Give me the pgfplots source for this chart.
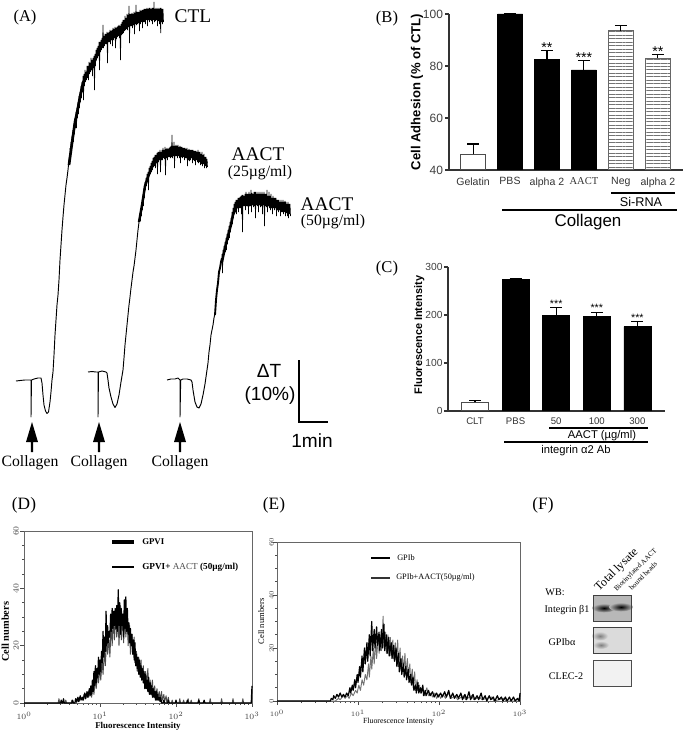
\documentclass[border=0pt]{standalone}
\usepackage{fontspec}
\setmainfont{Liberation Serif}
\setsansfont{Liberation Sans}
\usepackage{pgfplots}
\usepackage{pgfplotstable}
\pgfplotsset{compat=1.18}
\usetikzlibrary{patterns.meta}
% 1 px of the reference = 0.75pt

\pgfplotstableread{
lx n
0.00 0
0.48 0
0.49 1
0.50 0
0.51 0
0.52 1.5
0.53 0
0.63 0
0.64 1
0.65 0
0.67 0
0.68 1.5
0.69 0.5
0.71 2
0.72 0.5
0.74 2.5
0.75 1
0.77 2
0.78 1
0.80 3.5
0.81 1.5
0.83 4
0.84 2
0.86 5
0.87 2.5
0.88 6
0.89 3
0.90 8
0.91 4
0.92 11
0.93 6
0.94 13
0.95 7
0.96 12
0.97 9
0.98 16
0.99 10
1.00 15
1.01 11
1.02 18
1.03 14
1.04 25
1.05 16
1.06 23
1.07 18
1.08 32
1.09 20
1.10 27
1.11 21
1.12 25
1.13 23
1.14 31
1.15 25
1.16 33
1.17 26
1.18 32
1.19 27
1.20 33
1.21 26
1.22 34
1.23 25
1.24 39.5
1.25 27
1.26 35
1.27 24
1.28 33
1.29 27
1.30 31
1.31 23
1.32 36
1.33 26
1.34 37
1.35 25
1.36 33
1.37 24
1.38 28
1.39 21
1.40 26
1.41 20
1.42 24
1.43 17
1.44 22
1.45 15
1.46 21
1.47 13
1.48 17
1.49 12
1.50 16
1.51 10
1.52 15
1.53 9
1.54 13
1.55 8
1.56 12
1.57 7
1.58 11
1.59 5
1.60 10
1.61 5
1.62 8
1.63 4
1.64 9
1.65 3
1.66 7
1.67 3
1.68 6
1.69 2
1.70 5
1.71 2
1.72 4
1.73 1
1.74 4
1.75 1
1.76 3
1.77 1
1.78 2
1.79 0.5
1.80 2
1.81 0
1.83 0
1.84 1
1.85 0
1.89 0
1.90 1
1.91 0
1.99 0
2.00 1
2.01 0
2.14 0
2.15 1
2.16 0
2.29 0
2.30 1
2.31 0
2.36 0
2.37 1
2.38 0
2.99 0
3.00 6
}\histDa

\pgfplotstableread{
lx n
0.00 0
0.45 0
0.46 1.5
0.47 0
0.54 0
0.55 1
0.56 0
0.62 0
0.63 1
0.64 0
0.69 0
0.70 1
0.72 0.5
0.75 2
0.77 1
0.79 3
0.81 1.5
0.84 3.5
0.85 2
0.88 5
0.89 2
0.91 7
0.92 3
0.94 9
0.95 5
0.97 11
0.98 7
1.00 12
1.01 8
1.03 15
1.04 10
1.06 19
1.07 13
1.09 23
1.10 17
1.12 22
1.13 16
1.15 29
1.16 20
1.18 30
1.19 22
1.21 31
1.22 23
1.24 28
1.25 20
1.27 34
1.28 22
1.30 31
1.31 21
1.33 30
1.34 23
1.36 30
1.37 20
1.39 27
1.40 17
1.42 24
1.43 18
1.45 23
1.46 14
1.48 18
1.49 11
1.51 16
1.52 10
1.54 15
1.55 8
1.57 13
1.58 7
1.60 11
1.61 6
1.63 12
1.64 5
1.66 8
1.67 4
1.69 8
1.70 3
1.72 6
1.73 2
1.75 5
1.76 2
1.78 4
1.79 1
1.81 4
1.82 1
1.84 3
1.85 0.5
1.87 2.5
1.88 0
1.90 2
1.91 0
1.94 0
1.95 1
1.96 0
2.04 0
2.05 1.5
2.06 0
2.09 0
2.10 1
2.11 0
2.15 0
2.16 1.5
2.17 0
2.19 0
2.20 1
2.21 0
2.29 0
2.30 1.5
2.31 0
2.44 0
2.45 1.5
2.46 0
2.59 0
2.60 1.5
2.61 0
2.74 0
2.75 1.5
2.76 0
2.87 0
2.88 1.5
2.89 0
3.00 0
}\histDb

\pgfplotstableread{
lx n
0.00 0
0.66 0
0.67 1
0.69 0.5
0.70 2
0.72 1
0.74 2.5
0.76 1.5
0.78 3
0.80 1.5
0.82 2.5
0.84 1.5
0.86 3
0.88 2
0.90 5
0.91 3
0.93 6
0.94 4
0.96 8
0.97 5
0.99 10
1.00 7
1.02 13
1.03 9
1.05 17
1.06 11
1.08 20
1.09 14
1.11 22
1.12 15
1.14 25
1.15 17
1.17 30
1.18 19
1.20 27
1.21 20
1.23 28
1.24 21
1.26 26
1.27 19
1.29 27
1.30 20
1.32 29
1.33 19
1.35 25
1.36 18
1.38 24
1.39 17
1.41 22
1.42 16
1.44 21
1.45 15
1.47 20
1.48 13
1.50 18
1.51 11
1.53 16
1.54 10
1.56 14
1.57 9
1.59 13
1.60 8
1.62 12
1.63 7
1.65 10
1.66 6
1.68 9
1.69 4
1.71 6
1.72 3
1.74 7
1.75 3
1.77 5
1.78 3
1.80 6
1.81 2
1.83 4
1.84 2
1.87 4
1.89 2
1.92 3.5
1.94 1.5
1.97 3
1.99 1.5
2.02 3
2.04 1.5
2.07 3.5
2.09 1.5
2.12 4
2.14 1
2.17 3
2.19 1
2.22 2.5
2.24 1
2.27 3
2.29 0.5
2.32 2.5
2.34 0.5
2.37 3.5
2.39 0.5
2.42 2.5
2.44 0.5
2.47 2
2.49 0.5
2.52 3
2.54 0.5
2.57 2
2.59 0
2.62 2
2.64 0.5
2.67 1.5
2.69 0
2.72 2
2.74 0.5
2.77 1.5
2.79 0
2.82 1.5
2.84 0
2.87 1.5
2.89 0
2.92 1.5
2.94 0
2.97 1
2.99 0
3.00 3
}\histEa

\pgfplotstableread{
lx n
0.00 0
0.72 0
0.76 1
0.78 0.5
0.82 2
0.84 1
0.87 2
0.89 1
0.92 3
0.94 2
0.97 4
0.99 3
1.01 6
1.03 4
1.05 8
1.07 6
1.09 10
1.11 8
1.13 14
1.14 9
1.16 17
1.17 12
1.19 20
1.20 14
1.22 23
1.23 16
1.25 25
1.26 18
1.28 24
1.29 19
1.31 32
1.32 20
1.34 26
1.35 18
1.37 25
1.38 17
1.40 24
1.41 17
1.43 23
1.44 16
1.46 22
1.47 15
1.49 23
1.50 13
1.52 20
1.53 12
1.55 17
1.56 11
1.58 18
1.59 10
1.61 16
1.62 9
1.64 14
1.65 7
1.67 12
1.68 5
1.70 11
1.71 4
1.73 8
1.74 4
1.76 6
1.77 3
1.80 5
1.82 2
1.85 5
1.87 2
1.90 3
1.92 1.5
1.95 3
1.97 1
2.00 2.5
2.02 1
2.05 2.5
2.08 1
2.12 3
2.15 1
2.20 2
2.23 0.5
2.30 2
2.33 0.5
2.40 2
2.43 0.5
2.50 1.5
2.53 0.5
2.65 1.5
2.68 0
2.80 1
2.83 0
3.00 0
}\histEb

\pgfplotsset{
  barax/.style={
    scale only axis,
    axis x line*=bottom, axis y line*=left,
    axis line style={gray!40!black, line width=0.8pt, -},
    ybar, bar shift=0pt,
    major x tick style={draw=none},
    ytick style={gray!40!black, line width=0.8pt},
    tick align=outside,
    major tick length=3pt,
    ticklabel style={font=\sffamily, text=black!75},
    /pgf/number format/assume math mode=true,
    error bars/error bar style={line width=0.8pt, black},
    error bars/error mark options={rotate=90, mark size=4.5pt, line width=0.8pt, black},
  },
  histax/.style={
    scale only axis,
    xmin=1, xmax=1000, ymin=0, ymax=60,
    clip=false,
    ytick={0,20,40,60},
    minor y tick num=3,
    xtick pos=bottom, ytick pos=left,
    tick align=outside,
    axis line style={black!60, line width=0.5pt},
    tick style={black!70, line width=0.4pt},
    major tick length=3pt, minor tick length=1.5pt,
    y tick label style={rotate=90, anchor=south},
    tick label style={text=black!75},
  },
}

\begin{document}
\begin{tikzpicture}
\path[use as bounding box] (0,0) rectangle (513.75pt,549pt);

% panel A and all the loose labels, in the reference's pixels
\begin{axis}[
  at={(0,0)}, anchor=south west,
  scale only axis, width=513.75pt, height=549pt,
  xmin=0, xmax=685, ymin=0, ymax=732, y dir=reverse,
  hide axis, clip=false,
]
% CTL
\addplot[black, line width=0.7pt, line join=round] coordinates {
 (16,381)(20,380.5)(25,380)(30,380)(31,380)(31,417)(31.5,380)(34,379)(38,378)(41,378)(42,383)(43,395)(44,405)(45.5,411)(47,413.5)(48.5,412)(50,402)(51,392)(52,380)(53,372)(54,355)(55,335)(56,320)(57,305)(58,295)(59,280)(60,260)(61,245)(62,230)(63,217)(64,205)(65,195)(66,185)(67,178)(68,170)(69,160)(70,153)
};
\addplot[black, line width=2pt, line join=round] coordinates {
 (69,165)(72,143)(75,122)(77,113)(80,97)(83,83)(88,72)(93,66)(97,55)(100,48)(105,41)(110,37)(115,34)(120,30)(124,26)(127,22)(132,20)(137,18)(142,17)(147,15)(155,15)(163,15)
};
\addplot[black, line width=0.5pt] coordinates {
 (70,148)(70.5,158)(71,142)(71.5,150)(72,136)(72.5,146)(73,130)(73.5,142)(74,124)(74.5,134)(75,118)(75.5,128)(76,112)(76.5,128)(77,108)(77.5,118)(78,102)(78.5,114)(79,96)(79.5,108)(80,92)(80.5,102)(81,86)(81.5,98)(82,82)(82.5,92)(83,76)(83.5,100)(84,74)(84.5,86)(85,70)(85.5,82)(86,72)(86.5,80)(87,66)(87.5,78)(88,66)(88.5,80)(89,62)(89.5,74)(90,63)(90.5,72)(91,58)(91.5,70)(92,60)(92.5,76)(93,58)(93.5,68)(94,56)(94.5,90)(95,54)(95.5,66)(96,50)(96.5,60)(97,48)(97.5,58)(98,46)(98.5,56)(99,42)(99.5,70)(100,42)(100.5,52)(101,40)(101.5,50)(102,38)(102.5,48)(103,25)(103.5,48)(104,36)(104.5,46)(105,34)(105.5,44)(106,34)(106.5,44)(107,32)(107.5,63)(108,33)(108.5,42)(109,32)(109.5,42)(110,30)(110.5,44)(111,31)(111.5,40)(112,30)(112.5,46)(113,28)(113.5,40)(114,29)(114.5,38)(115,27)(115.5,48)(116,28)(116.5,39)(117,27)(117.5,37)(118,26)(118.5,36)(119,25)(119.5,38)(120,26)(120.5,60)(121,24)(121.5,35)(122,22)(122.5,34)(123,20)(123.5,33)(124,20)(124.5,31)(125,16)(125.5,30)(126,18)(126.5,29)(127,14)(127.5,30)(128,15)(128.5,27)(129,6)(129.5,43)(130,14)(130.5,26)(131,14)(131.5,26)(132,13)(132.5,28)(133,14)(133.5,25)(134,12)(134.5,34)(135,13)(135.5,24)(136,5)(136.5,25)(137,12)(137.5,24)(138,12)(138.5,23)(139,12)(139.5,31)(140,10)(140.5,24)(141,11)(141.5,22)(142,10)(142.5,28)(143,10)(143.5,22)(144,9)(144.5,22)(145,9)(145.5,24)(146,9)(146.5,20)(147,8)(147.5,26)(148,9)(148.5,20)(149,8)(149.5,22)(150,8)(150.5,20)(151,9)(151.5,21)(152,8)(152.5,24)(153,8)(153.5,20)(154,2)(154.5,22)(155,9)(155.5,21)(156,8)(156.5,20)(157,9)(157.5,26)(158,8)(158.5,21)(159,9)(159.5,24)(160,8)(160.7,33)(161,8)(161.5,22)(162,9)(162.5,24)(163,9)(163.5,22)
};
% AACT 25
\addplot[black, line width=0.7pt, line join=round] coordinates {
 (88,372)(92,371.5)(96,372)(98,372)(98,417)(98.5,372)(102,371)(106,372)(107,373)(108,380)(109,388)(111,397)(113,404)(115,407.5)(117,404)(119,395)(121,382)(123,370)(124,358)(125,345)(126,335)(127,325)(128,315)(129,305)(130,297)(131,288)(132,280)(133,272)(134,266)(135,258)(136,250)(137,240)(138,230)(139,222)(140,216)
};
\addplot[black, line width=1.8pt, line join=round] coordinates {
 (139,222)(142,205)(145,186)(148,177)(152,167)(155,162)(160,157)(168,154)(176,152)(186,154)(196,156)(202,159)(207,163)
};
\addplot[black, line width=0.5pt] coordinates {
 (140,213)(140.5,221)(141,208)(141.5,216)(142,202)(142.5,210)(143,196)(143.5,206)(144,188)(144.5,198)(145,182)(145.5,190)(146,178)(146.5,186)(147,174)(147.5,182)(148,172)(148.5,190)(149,168)(149.5,176)(150,166)(150.5,174)(151,163)(151.5,172)(152,161)(152.5,170)(153,158)(153.5,167)(154,157)(154.5,166)(155,155)(155.5,168)(156,155)(156.5,163)(157,153)(157.5,174)(158,152)(158.5,162)(159,152)(159.5,160)(160,150)(160.5,172)(161,152)(161.5,160)(162,150)(162.5,160)(163,148)(163.5,158)(164,150)(164.5,159)(165,147)(165.5,175)(166,149)(166.5,158)(167,148)(167.5,160)(168,149)(168.5,157)(169,148)(169.5,157)(170,147)(170.5,158)(171,146)(171.5,157)(172,135)(172.5,158)(173,146)(173.5,156)(174,142)(174.5,168)(175,146)(175.5,156)(176,145)(176.5,156)(177,146)(177.5,158)(178,145)(178.5,156)(179,147)(179.5,158)(180,146)(180.5,163)(181,147)(181.5,157)(182,147)(182.5,158)(183,148)(183.5,157)(184,148)(184.5,160)(185,148)(185.5,158)(186,149)(186.5,158)(187,148)(187.5,166)(188,150)(188.5,160)(189,149)(189.5,161)(190,150)(190.5,160)(191,150)(191.5,158)(192,150)(192.5,163)(193,150)(193.5,160)(194,151)(194.5,161)(195,151)(195.5,165)(196,151)(196.5,160)(197,152)(197.5,162)(198,150)(198.5,163)(199,152)(199.5,162)(200,152)(200.5,165)(201,154)(201.5,164)(202,152)(202.5,166)(203,155)(203.5,164)(204,154)(204.5,168)(205,157)(205.5,166)(206,157)(206.5,168)(207,159)(207.5,167)
};
% AACT 50
\addplot[black, line width=0.7pt, line join=round] coordinates {
 (167,380)(171,379)(175,379)(178,378)(180,380)(180,417)(180.7,380)(183,379)(187,379)(191,380)(192,382)(193,390)(195,402)(197,407)(199,408)(201,404)(203,395)(205,384)(207,370)(208,363)(209,352)(210,345)(211,335)(212,330)(213,325)(214,318)(215,313)
};
\addplot[black, line width=1.4pt] coordinates {
 (215,315)(216,300)(217,290)(218,283)(219,272)(220,268)(221,262)(222,258)
};
\addplot[black, line width=1.8pt, line join=round] coordinates {
 (222,262)(225,248)(228,236)(231,225)(233,215)(236,208)(240,203)(246,200)(254,199)(262,200)(270,202)(278,206)(284,208)(290,210)
};
\addplot[black, line width=0.5pt] coordinates {
 (222,254)(222.5,273)(223,250)(223.5,258)(224,246)(224.5,254)(225,242)(225.5,252)(226,238)(226.5,250)(227,234)(227.5,244)(228,230)(228.5,240)(229,226)(229.5,238)(230,222)(230.5,232)(231,218)(231.5,226)(232,212)(232.5,224)(233,208)(233.5,218)(234,204)(234.5,214)(235,202)(235.5,212)(236,200)(236.5,214)(237,200)(237.5,208)(238,198)(238.5,212)(239,198)(239.5,208)(240,197)(240.5,208)(241,196)(241.5,214)(242,195)(242.5,232)(243,195)(243.5,206)(244,196)(244.5,206)(245,194)(245.5,210)(246,192)(246.5,206)(247,194)(247.5,206)(248,194)(248.5,214)(249,192)(249.5,206)(250,194)(250.5,206)(251,190)(251.5,212)(252,193)(252.5,205)(253,194)(253.5,207)(254,192)(254.5,206)(255,192)(255.5,218)(256,192)(256.5,205)(257,194)(257.5,206)(258,192)(258.5,212)(259,194)(259.5,205)(260,192)(260.5,207)(261,194)(261.5,206)(262,192)(262.5,214)(263,194)(263.5,205)(264,192)(264.5,226)(265,194)(265.5,206)(266,194)(266.5,207)(267,190)(267.5,212)(268,196)(268.5,206)(269,192)(269.5,208)(270,196)(270.5,210)(271,194)(271.5,208)(272,198)(272.5,214)(273,196)(273.5,208)(274,198)(274.5,210)(275,198)(275.5,208)(276,198)(276.5,216)(277,200)(277.5,210)(278,200)(278.5,212)(279,200)(279.5,210)(280,202)(280.5,216)(281,200)(281.5,212)(282,202)(282.5,212)(283,200)(283.5,214)(284,202)(284.5,212)(285,201)(285.5,216)(286,202)(286.5,213)(287,204)(287.5,216)(288,202)(288.5,218)(289,204)(289.5,214)(290,204)(290.5,216)
};
% arrows under the traces
\foreach \ax in {32,99,180}{
  \edef\temp{\noexpand\fill[black] (axis cs:\ax,422) -- (axis cs:\ax+6,442) -- (axis cs:\ax+1.2,442) -- (axis cs:\ax+1.2,452) -- (axis cs:\ax-1.2,452) -- (axis cs:\ax-1.2,442) -- (axis cs:\ax-6,442) -- cycle;}
  \temp
  \edef\temp{\noexpand\node[font=\noexpand\fontsize{11.8pt}{13pt}\noexpand\selectfont] at (axis cs:\ifnum\ax=32 30\else\ax\fi,463) {Collagen};}
  \temp
}
% scale bar
\draw[black, line width=1.1pt] (axis cs:299,360) -- (axis cs:299,422) -- (axis cs:328,422);
\node[font=\sffamily\fontsize{14.3pt}{16pt}\selectfont] at (axis cs:269,371) {ΔT};
\node[font=\sffamily\fontsize{14.3pt}{16pt}\selectfont] at (axis cs:270,396) {(10\%)};
\node[font=\sffamily\fontsize{14.3pt}{16pt}\selectfont] at (axis cs:312,441) {1min};
\node[font=\fontsize{14.5pt}{16pt}\selectfont] at (axis cs:193,16) {CTL};
\node[font=\fontsize{14.5pt}{16pt}\selectfont] at (axis cs:258,154) {AACT};
\node[font=\fontsize{11.8pt}{13pt}\selectfont] at (axis cs:260,173) {(25µg/ml)};
\node[font=\fontsize{14.5pt}{16pt}\selectfont] at (axis cs:327,204) {AACT};
\node[font=\fontsize{11.8pt}{13pt}\selectfont] at (axis cs:333,222) {(50µg/ml)};
% panel letters
\node[font=\fontsize{12.4pt}{14pt}\selectfont] at (axis cs:25,18) {(A)};
\node[font=\fontsize{12.4pt}{14pt}\selectfont] at (axis cs:387,19) {(B)};
\node[font=\fontsize{12.4pt}{14pt}\selectfont] at (axis cs:387,269) {(C)};
\node[font=\fontsize{13pt}{15pt}\selectfont] at (axis cs:24,505) {(D)};
\node[font=\fontsize{13pt}{15pt}\selectfont] at (axis cs:274,505) {(E)};
\node[font=\fontsize{13pt}{15pt}\selectfont] at (axis cs:543,505) {(F)};
% brackets under B
\draw[black, line width=0.8pt] (axis cs:611,193) -- (axis cs:675,193);
\node[font=\sffamily\fontsize{9.5pt}{11pt}\selectfont] at (axis cs:641,202) {Si-RNA};
\draw[black, line width=0.8pt] (axis cs:502,210) -- (axis cs:677,210);
\node[font=\sffamily\fontsize{12.7pt}{14pt}\selectfont] at (axis cs:588,222) {Collagen};
% brackets under C
\draw[black, line width=0.8pt] (axis cs:549,428) -- (axis cs:648,428);
\node[font=\sffamily\fontsize{8.4pt}{10pt}\selectfont] at (axis cs:602,436) {AACT (µg/ml)};
\draw[black, line width=0.8pt] (axis cs:504,442) -- (axis cs:648,442);
\node[font=\sffamily\fontsize{8.4pt}{10pt}\selectfont] at (axis cs:576,451) {integrin α2 Ab};
% panel F blots
\fill[black!28] (axis cs:593,595) rectangle (axis cs:631,621);
\shade[inner color=black, outer color=black!28] (axis cs:604,608) ellipse [x radius=9pt, y radius=3.4pt];
\shade[inner color=black, outer color=black!28] (axis cs:621,607) ellipse [x radius=9pt, y radius=3.4pt];
\draw[black!75, line width=0.7pt] (axis cs:593,595) rectangle (axis cs:631,621);
\fill[black!14] (axis cs:593,627) rectangle (axis cs:631,653);
\shade[inner color=black!50, outer color=black!14] (axis cs:600,636) ellipse [x radius=6pt, y radius=3.4pt];
\shade[inner color=black!50, outer color=black!14] (axis cs:601,645) ellipse [x radius=6pt, y radius=3pt];
\draw[black!75, line width=0.7pt] (axis cs:593,627) rectangle (axis cs:631,653);
\fill[black!5] (axis cs:593,660) rectangle (axis cs:631,686);
\draw[black!70, line width=0.7pt] (axis cs:593,660) rectangle (axis cs:631,686);
\node[font=\fontsize{7.6pt}{9pt}\selectfont] at (axis cs:555,592) {WB:};
\node[font=\fontsize{7.6pt}{9pt}\selectfont] at (axis cs:567,610) {Integrin β1};
\node[font=\fontsize{7.6pt}{9pt}\selectfont] at (axis cs:562,642) {GPIbα};
\node[font=\fontsize{7.6pt}{9pt}\selectfont] at (axis cs:566,676) {CLEC-2};
\node[font=\fontsize{9pt}{10pt}\selectfont, rotate=45, anchor=south west, inner sep=0pt] at (axis cs:601,594) {Total lysate};
\node[font=\fontsize{5.4pt}{6pt}\selectfont, rotate=45, anchor=south west, inner sep=0pt] at (axis cs:618,593) {Biotinylated AACT};
\node[font=\fontsize{5.4pt}{6pt}\selectfont, rotate=45, anchor=south west, inner sep=0pt] at (axis cs:632,591) {bound beads};
\end{axis}

% panel B
\begin{axis}[
  barax,
  at={(336.75pt,421.5pt)}, anchor=south west,
  width=175.5pt, height=117pt,
  xmin=-0.65, xmax=5.68, ymin=40, ymax=100,
  bar width=18.75pt,
  xtick={0,1,2,3,4,5},
  xticklabels={Gelatin,PBS,alpha 2,{\rmfamily AACT},Neg,alpha 2},
  ytick={40,60,80,100},
  x tick label style={font=\sffamily\fontsize{7.9pt}{9pt}\selectfont, text=black!80, yshift=1pt},
  y tick label style={font=\sffamily\fontsize{9pt}{10pt}\selectfont, xshift=2pt},
  ylabel={\bfseries Cell Adhesion (\% of CTL)},
  ylabel style={font=\sffamily\fontsize{9.8pt}{11pt}\selectfont, yshift=-7pt},
]
\addplot[draw=black!70, fill=white, line width=0.8pt, error bars/.cd, y dir=plus, y explicit]
  coordinates {(0,46) +- (0,4)};
\addplot[draw=black, fill=black, error bars/.cd, y dir=plus, y explicit]
  coordinates {(1,100) +- (0,0) (2,82.5) +- (0,3.5) (3,78.5) +- (0,3.5)};
\addplot[draw=black!60, line width=0.8pt, pattern={Lines[angle=0,distance=2.6pt,line width=0.55pt]}, pattern color=black!55, error bars/.cd, y dir=plus, y explicit]
  coordinates {(4,93.5) +- (0,2) (5,83) +- (0,1.5)};
\node[font=\sffamily\fontsize{10.7pt}{12pt}\selectfont] at (axis cs:2,87.2) {**};
\node[font=\sffamily\fontsize{10.7pt}{12pt}\selectfont] at (axis cs:3,83.2) {***};
\node[font=\sffamily\fontsize{10.7pt}{12pt}\selectfont] at (axis cs:5,85.7) {**};
\end{axis}

% panel C
\begin{axis}[
  barax,
  at={(336pt,240.75pt)}, anchor=south west,
  width=162.75pt, height=108pt,
  xmin=-0.665, xmax=4.68, ymin=0, ymax=300,
  bar width=20.25pt,
  xtick={0,1,2,3,4},
  xticklabels={CLT,PBS,50,100,300},
  ytick={0,100,200,300},
  x tick label style={font=\sffamily\fontsize{7.2pt}{9pt}\selectfont, text=black!80, yshift=1.5pt},
  y tick label style={font=\sffamily\fontsize{7.7pt}{9pt}\selectfont, xshift=2.5pt},
  ylabel={\bfseries Fluorescence Intensity},
  ylabel style={font=\sffamily\fontsize{8.2pt}{10pt}\selectfont, yshift=-6pt, xshift=3pt},
]
\addplot[draw=black!70, fill=white, line width=0.8pt, error bars/.cd, y dir=plus, y explicit]
  coordinates {(0,18) +- (0,3)};
\addplot[draw=black, fill=black, error bars/.cd, y dir=plus, y explicit]
  coordinates {(1,275) +- (0,2) (2,199) +- (0,17) (3,197) +- (0,9) (4,176) +- (0,10)};
\node[font=\sffamily\fontsize{8pt}{9pt}\selectfont] at (axis cs:2,224) {***};
\node[font=\sffamily\fontsize{8pt}{9pt}\selectfont] at (axis cs:3,214) {***};
\node[font=\sffamily\fontsize{8pt}{9pt}\selectfont] at (axis cs:4,194) {***};
\end{axis}

% panel D
\begin{semilogxaxis}[
  histax,
  at={(18pt,21.75pt)}, anchor=south west,
  width=171pt, height=129pt,
  tick label style={font=\fontsize{6.2pt}{7pt}\selectfont},
  y tick label style={yshift=-2.5pt},
  xlabel={Fluorescence Intensity},
  ylabel={Cell numbers},
  xlabel style={font=\bfseries\fontsize{6.7pt}{8pt}\selectfont, yshift=5pt},
  ylabel style={font=\bfseries\fontsize{7.8pt}{9pt}\selectfont, yshift=-3.5pt, xshift=-11pt},
]
\addplot[black!70, line width=0.7pt, line join=round] table[x expr={10^\thisrow{lx}}, y=n] {\histDb};
\addplot[black, line width=0.9pt, line join=round] table[x expr={10^\thisrow{lx}}, y=n] {\histDa};
\end{semilogxaxis}

% panel E
\begin{semilogxaxis}[
  histax,
  at={(207.75pt,23.25pt)}, anchor=south west,
  width=182.25pt, height=119.25pt,
  tick label style={font=\fontsize{5.4pt}{6pt}\selectfont},
  y tick label style={yshift=-4pt},
  xlabel={Fluorescence Intensity},
  ylabel={Cell numbers},
  xlabel style={font=\fontsize{5.9pt}{7pt}\selectfont, yshift=6pt},
  ylabel style={font=\fontsize{6.4pt}{7pt}\selectfont, yshift=-3pt},
]
\addplot[black!55, line width=0.7pt, line join=round] table[x expr={10^\thisrow{lx}}, y=n] {\histEb};
\addplot[black, line width=0.9pt, line join=round] table[x expr={10^\thisrow{lx}}, y=n] {\histEa};
\end{semilogxaxis}

% legends of D and E, again in the pixels of the reference
\begin{axis}[
  at={(0,0)}, anchor=south west,
  scale only axis, width=513.75pt, height=549pt,
  xmin=0, xmax=685, ymin=0, ymax=732, y dir=reverse,
  hide axis, clip=false,
]
\addplot[black, line width=2.4pt] coordinates {(112,542)(134,542)};
\addplot[black, line width=0.9pt] coordinates {(112,567)(134,567)};
\node[font=\bfseries\fontsize{6.6pt}{8pt}\selectfont, anchor=west, inner sep=0pt] at (axis cs:142,542) {GPVI};
\node[font=\fontsize{6.9pt}{8pt}\selectfont, anchor=west, inner sep=0pt] at (axis cs:142,567) {\textbf{GPVI+} {\color{black!70}AACT} \textbf{(50µg/ml)}};
\addplot[black, line width=2.2pt] coordinates {(371,558)(390,558)};
\addplot[black!80, line width=1pt] coordinates {(371,578)(390,578)};
\node[font=\fontsize{6.2pt}{8pt}\selectfont, anchor=west, inner sep=0pt] at (axis cs:397,558) {GPIb};
\node[font=\fontsize{6.2pt}{8pt}\selectfont, anchor=west, inner sep=0pt] at (axis cs:396,578) {GPIb+AACT(50µg/ml)};
\end{axis}
\end{tikzpicture}
\end{document}
